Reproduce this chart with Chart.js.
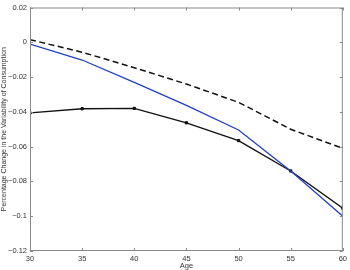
<!DOCTYPE html>
<html>
<head>
<meta charset="utf-8">
<script src="https://cdn.jsdelivr.net/npm/chart.js@4"></script>
<style>
  html, body { margin: 0; padding: 0; background: #fff; }
  #wrap { width: 350px; height: 270px; }
</style>
</head>
<body>
<div id="wrap"><canvas id="ageChart"></canvas></div>
<script>
const ages = [30, 35, 40, 45, 50, 55, 60]
const blueLine = [-0.001, -0.0102, -0.023, -0.0363, -0.0504, -0.074, -0.100]
const dashedLine = [0.0015, -0.0057, -0.0146, -0.024, -0.0345, -0.050, -0.061]
const markedLine = [-0.0406, -0.0382, -0.038, -0.0463, -0.0565, -0.074, -0.0954]
const xTicks = [30, 35, 40, 45, 50, 55, 60]
const yTicks = [0.02, 0, -0.02, -0.04, -0.06, -0.08, -0.1, -0.12]

const toPoints = vals => ages.map((a, i) => ({ x: a, y: vals[i] }))
const fmt = v => {
    const s = String(Math.round(v * 100) / 100)
    return s.replace('-', '\u2212')
}

// matlab style box with inward ticks
const boxPlugin = {
    id: 'box',
    afterDraw(chart) {
        const { ctx, chartArea: a, scales } = chart
        ctx.save()
        ctx.strokeStyle = '#8a8a8a'
        ctx.lineWidth = 1
        ctx.strokeRect(a.left + 0.5, a.top + 0.5, a.right - a.left - 1, a.bottom - a.top - 1)
        ctx.beginPath()
        xTicks.forEach(t => {
            const x = Math.round(scales.x.getPixelForValue(t)) + 0.5
            ctx.moveTo(x, a.bottom); ctx.lineTo(x, a.bottom - 3)
            ctx.moveTo(x, a.top); ctx.lineTo(x, a.top + 3)
        })
        yTicks.forEach(t => {
            const y = Math.round(scales.y.getPixelForValue(t)) + 0.5
            ctx.moveTo(a.left, y); ctx.lineTo(a.left + 3, y)
            ctx.moveTo(a.right, y); ctx.lineTo(a.right - 3, y)
        })
        ctx.stroke()
        ctx.restore()
    }
}

const data = {
    datasets: [
        {
            label: 'dashed',
            data: toPoints(dashedLine),
            borderColor: '#111',
            borderWidth: 1.5,
            borderDash: [6, 3.5],
            pointRadius: 0,
            fill: false
        },
        {
            label: 'blue',
            data: toPoints(blueLine),
            borderColor: '#2040c8',
            borderWidth: 1.3,
            pointRadius: 0,
            fill: false
        },
        {
            label: 'marked',
            data: toPoints(markedLine),
            borderColor: '#111',
            borderWidth: 1.4,
            pointStyle: 'rect',
            pointRadius: 1.6,
            pointBorderWidth: 1,
            pointBackgroundColor: '#111',
            pointBorderColor: '#111',
            fill: false
        }
    ]
}

const tickFont = { family: 'Liberation Sans, Arial, sans-serif', size: 7.5 }

const config = {
    type: 'line',
    data: data,
    options: {
        responsive: true,
        maintainAspectRatio: false,
        animation: false,
        layout: { padding: { top: 4, right: 7, left: 0, bottom: 0 } },
        plugins: { legend: { display: false }, tooltip: { enabled: false } },
        scales: {
            x: {
                type: 'linear',
                min: 30,
                max: 60,
                afterBuildTicks: s => { s.ticks = xTicks.map(v => ({ value: v })) },
                ticks: { color: '#333', font: tickFont, padding: 3, maxRotation: 0, callback: v => String(v) },
                grid: { display: false, drawTicks: false },
                border: { display: false },
                title: { display: true, text: 'Age', color: '#333', font: tickFont, padding: { top: 0, bottom: 0 } },
                afterFit: s => { s.height = 19 }
            },
            y: {
                type: 'linear',
                min: -0.12,
                max: 0.02,
                afterBuildTicks: s => { s.ticks = yTicks.map(v => ({ value: v })) },
                ticks: { color: '#333', font: tickFont, padding: 3, callback: v => fmt(v) },
                grid: { display: false, drawTicks: false },
                border: { display: false },
                title: {
                    display: true,
                    text: 'Percentage Change in the Variability of Consumption',
                    color: '#333',
                    font: { family: 'Liberation Sans, Arial, sans-serif', size: 7 },
                    padding: { top: 0, bottom: 0 }
                },
                afterFit: s => { s.width = 30 }
            }
        }
    },
    plugins: [boxPlugin]
}

const ageChart = new Chart(document.getElementById('ageChart'), config)
</script>
</body>
</html>
